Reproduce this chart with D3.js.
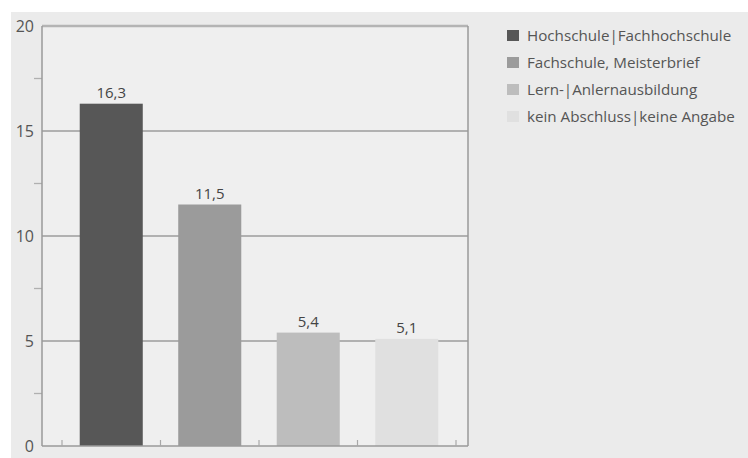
<!DOCTYPE html>
<html>
<head>
<meta charset="utf-8">
<script src="https://cdn.jsdelivr.net/npm/d3@7"></script>
<style>
  html, body { margin: 0; padding: 0; background: #ffffff; }
  svg { display: block; font-family: "Open Sans", "Noto Sans", sans-serif; }
</style>
</head>
<body>
<svg id="chart" width="748" height="458"></svg>
<script>
// Abschlüsse (Anteil in Prozent)
const categories = [
  "Hochschule|Fachhochschule",
  "Fachschule, Meisterbrief",
  "Lern-|Anlernausbildung",
  "kein Abschluss|keine Angabe"
];
const values = [16.3, 11.5, 5.4, 5.1];
const colors = ["#575757", "#9b9b9b", "#bdbdbd", "#e0e0e0"];
const yTicks = [0, 5, 10, 15, 20];
const yMinorTicks = [2.5, 7.5, 12.5, 17.5];

(function draw() {
  const svg = d3.select("#chart");
  const W = 748, H = 458;

  // frame of the plot
  const pLeft = 42, pRight = 468, pTop = 26, pBottom = 446;
  const bandStart = 62, bandEnd = 456;

  const de = d3.formatLocale({ decimal: ",", thousands: ".", grouping: [3], currency: ["", " €"] });
  const fmt = de.format(".1f");

  // panel background
  svg.append("rect").attr("x", 11).attr("y", 12).attr("width", W - 11).attr("height", H - 12)
    .attr("fill", "#ebebeb");
  svg.append("rect").attr("x", pLeft).attr("y", pTop).attr("width", pRight - pLeft).attr("height", pBottom - pTop)
    .attr("fill", "#efefef");

  const y = d3.scaleLinear().domain([0, 20]).range([pBottom, pTop]);
  const x = d3.scaleBand().domain(categories).range([bandStart, bandEnd])
    .paddingInner(0.36).paddingOuter(0.18);

  // horizontal grid lines
  svg.append("g").selectAll("line").data(yTicks.filter(d => d > 0)).join("line")
    .attr("x1", pLeft).attr("x2", pRight)
    .attr("y1", d => y(d)).attr("y2", d => y(d))
    .attr("stroke", d => d === 20 ? "#b4b4b4" : "#9c9c9c")
    .attr("stroke-width", d => d === 20 ? 2.5 : 1.3);

  // minor ticks on the value axis
  svg.append("g").selectAll("line").data(yMinorTicks).join("line")
    .attr("x1", 34).attr("x2", pLeft)
    .attr("y1", d => y(d)).attr("y2", d => y(d))
    .attr("stroke", "#b0b0b0").attr("stroke-width", 1.3);

  // bars
  svg.append("g").selectAll("rect").data(categories).join("rect")
    .attr("x", d => x(d))
    .attr("y", (d, i) => y(values[i]))
    .attr("width", x.bandwidth())
    .attr("height", (d, i) => y(0) - y(values[i]))
    .attr("fill", (d, i) => colors[i]);

  // value labels
  svg.append("g").selectAll("text").data(categories).join("text")
    .attr("x", d => x(d) + x.bandwidth() / 2)
    .attr("y", (d, i) => y(values[i]) - 6)
    .attr("text-anchor", "middle")
    .attr("font-size", 15)
    .attr("fill", "#444")
    .text((d, i) => fmt(values[i]));

  // axes frame
  const frame = svg.append("g").attr("stroke", "#9a9a9a").attr("stroke-width", 1.5).attr("fill", "none");
  frame.append("line").attr("x1", pLeft).attr("x2", pLeft).attr("y1", pTop).attr("y2", pBottom);
  frame.append("line").attr("x1", pRight).attr("x2", pRight).attr("y1", pTop).attr("y2", pBottom);
  frame.append("line").attr("x1", pLeft).attr("x2", pRight).attr("y1", pBottom).attr("y2", pBottom);

  // category separators on the bottom axis
  const step = x.step();
  const sepX = categories.map(c => x(c) - step * x.paddingInner() / 2).concat([bandEnd]);
  svg.append("g").selectAll("line").data(sepX).join("line")
    .attr("x1", d => d).attr("x2", d => d)
    .attr("y1", pBottom).attr("y2", pBottom - 6)
    .attr("stroke", "#a8a8a8").attr("stroke-width", 1.2);

  // value axis labels
  svg.append("g").selectAll("text").data(yTicks).join("text")
    .attr("x", 34).attr("y", d => y(d) + 5.5)
    .attr("text-anchor", "end")
    .attr("font-size", 16)
    .attr("fill", "#555")
    .text(d => d);

  // legend
  const legend = svg.append("g").attr("transform", "translate(507,30)");
  const rows = legend.selectAll("g").data(categories).join("g")
    .attr("transform", (d, i) => `translate(0,${i * 27})`);
  rows.append("rect").attr("width", 12).attr("height", 11)
    .attr("fill", (d, i) => colors[i]);
  rows.append("text").attr("x", 20).attr("y", 11)
    .attr("font-size", 15.2).attr("fill", "#555")
    .text(d => d);
})();
</script>
</body>
</html>
